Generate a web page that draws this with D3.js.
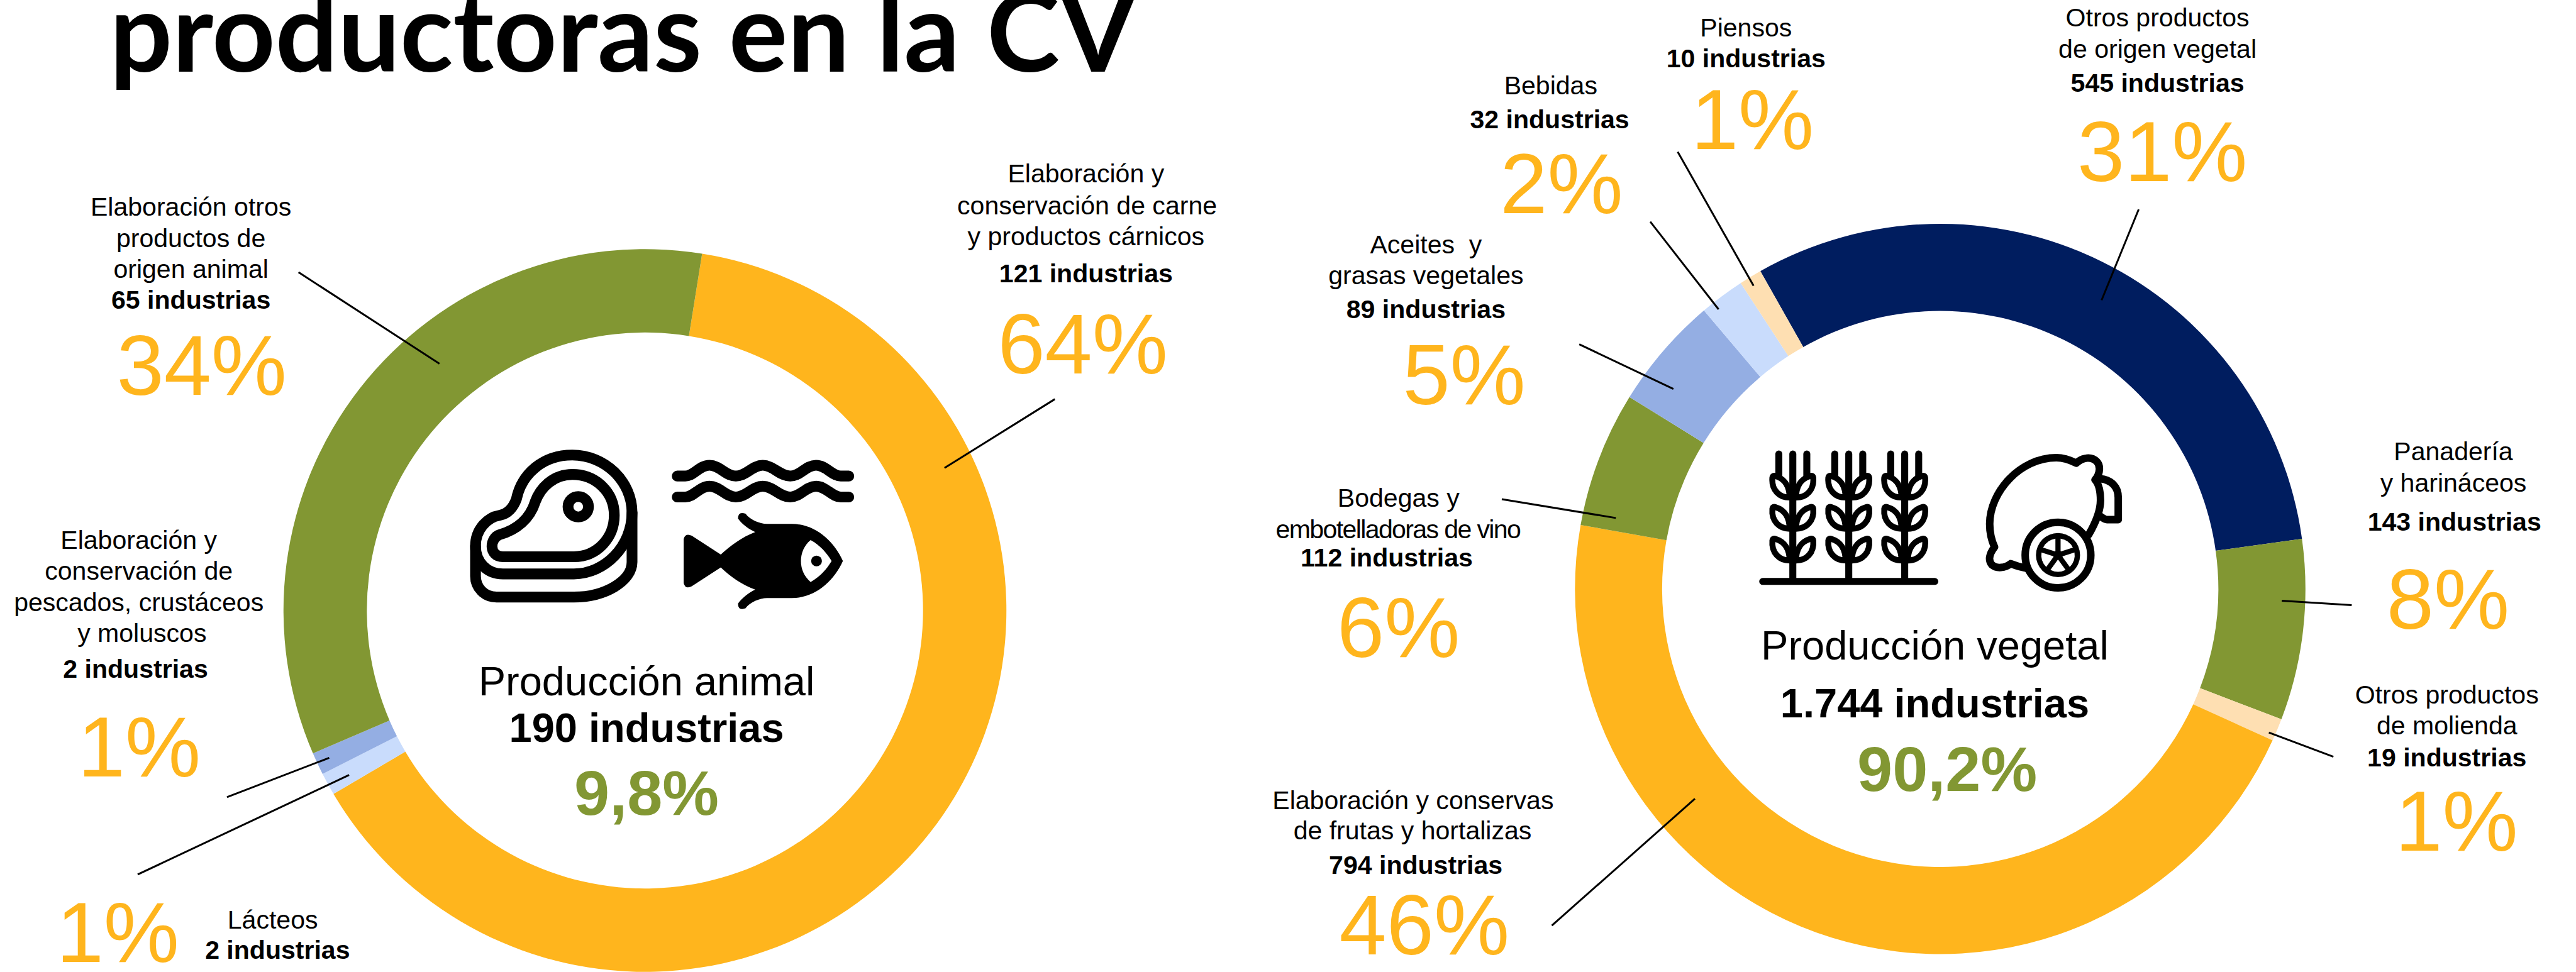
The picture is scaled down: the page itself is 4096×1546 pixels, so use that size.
<!DOCTYPE html>
<html>
<head>
<meta charset="utf-8">
<script src="https://cdn.jsdelivr.net/npm/d3@7"></script>
<style>
  html, body { margin: 0; padding: 0; background: #fff; overflow: hidden; }
  svg { display: block; }
  text { font-family: "Liberation Sans", Arial, sans-serif; white-space: pre; }
</style>
</head>
<body>
<div id="viz"></div>
<script>
const titleText = "productoras en la CV";

const animalNames = [
    ["Elaboración y", "conservación de carne", "y productos cárnicos"],
    ["Lácteos"],
    ["Elaboración y", "conservación de", "pescados, crustáceos", "y moluscos"],
    ["Elaboración otros", "productos de", "origen animal"]
];
const animalCounts = [121, 2, 2, 65];
const animalPcts = [64, 1, 1, 34];
const animalColors = ["#FFB51D", "#C9DCFC", "#94AEE3", "#829733"];

const vegetalNames = [
    ["Otros productos", "de origen vegetal"],
    ["Panadería", "y harináceos"],
    ["Otros productos", "de molienda"],
    ["Elaboración y conservas", "de frutas y hortalizas"],
    ["Bodegas y", "embotelladoras de vino"],
    ["Aceites  y", "grasas vegetales"],
    ["Bebidas"],
    ["Piensos"]
];
const vegetalCounts = [545, 143, 19, 794, 112, 89, 32, 10];
const vegetalPcts = [31, 8, 1, 46, 6, 5, 2, 1];
const vegetalColors = ["#001D5F", "#829733", "#FEDFB2", "#FFB51D", "#829733", "#94AEE3", "#C9DCFC", "#FEDFB2"];

const animalTotal = ["Producción animal", "190 industrias", "9,8%"];
const vegetalTotal = ["Producción vegetal", "1.744 industrias", "90,2%"];

// everything below is laid out in reference pixels, the viewBox scales it to the window
const width = 4789;
const height = 1807;
const deg = Math.PI / 180;

const animalRing = {cx: 1199, cy: 1135, outer: 672, inner: 517, start: 9.1};
const vegetalRing = {cx: 3607, cy: 1095, outer: 679, inner: 517, start: -29.5};

const animalLayout = [
    {names: [[2019, 339], [2021, 398], [2019, 456]], count: [2019, 525], pct: [2013, 694], leader: [1961, 742, 1756, 870]},
    {names: [[507, 1727]], count: [516, 1783], pct: [219, 1789], leader: [256, 1626, 649, 1441]},
    {names: [[258, 1020], [258, 1078], [258, 1136], [264, 1193]], count: [252, 1260], pct: [259, 1444], leader: [422, 1482, 612, 1409]},
    {names: [[355, 401], [355, 459], [355, 516]], count: [355, 574], pct: [375, 734], leader: [555, 506, 817, 676]}
];
const vegetalLayout = [
    {names: [[4011, 49], [4011, 107]], count: [4011, 171], pct: [4020, 337], leader: [3976, 389, 3907, 558]},
    {names: [[4561, 856], [4561, 914]], count: [4563, 987], pct: [4551, 1169], leader: [4242, 1117, 4372, 1125]},
    {names: [[4549, 1308], [4549, 1365]], count: [4549, 1425], pct: [4567, 1582], leader: [4218, 1362, 4338, 1407]},
    {names: [[2627, 1504], [2626, 1561]], count: [2632, 1625], pct: [2648, 1775], leader: [2885, 1721, 3151, 1485]},
    {names: [[2600, 942], [2599, 1000]], count: [2578, 1053], pct: [2600, 1222], leader: [2792, 928, 3004, 963]},
    {names: [[2651, 471], [2651, 528]], count: [2651, 591], pct: [2722, 752], leader: [2936, 640, 3111, 723]},
    {names: [[2883, 175]], count: [2881, 238], pct: [2903, 396], leader: [3068, 412, 3195, 575]},
    {names: [[3246, 68]], count: [3246, 125], pct: [3258, 277], leader: [3119, 282, 3260, 531]}
];

const svg = d3.select("#viz").append("svg")
    .attr("width", 4096)
    .attr("height", 1546)
    .attr("viewBox", `0 0 ${width} ${height}`);

svg.append("text")
    .attr("x", 204)
    .attr("y", 133)
    .attr("font-size", 205)
    .attr("font-weight", 700)
    .style("font-family", "Lato, sans-serif")
    .text(titleText);

// the slices follow the rounded percentages, not the raw counts
function drawRing(ring, values, colors) {
    const pie = d3.pie().sort(null)
        .startAngle(ring.start * deg)
        .endAngle((ring.start + 360) * deg);
    const arc = d3.arc().innerRadius(ring.inner).outerRadius(ring.outer);

    svg.append("g")
        .attr("transform", `translate(${ring.cx}, ${ring.cy})`)
        .selectAll("path")
        .data(pie(values))
        .enter().append("path")
            .attr("d", arc)
            .attr("fill", (d, i) => colors[i]);
}

function drawLabels(names, counts, pcts, layout) {
    const g = svg.append("g").attr("text-anchor", "middle");

    layout.forEach((pos, i) => {
        g.append("line")
            .attr("x1", pos.leader[0]).attr("y1", pos.leader[1])
            .attr("x2", pos.leader[2]).attr("y2", pos.leader[3])
            .attr("stroke", "#000")
            .attr("stroke-width", 3.5);

        names[i].forEach((line, j) => {
            g.append("text")
                .attr("x", pos.names[j][0])
                .attr("y", pos.names[j][1])
                .attr("font-size", 48)
                .attr("letter-spacing", line.startsWith("embotelladoras") ? -1.9 : 0)
                .text(line);
        });

        g.append("text")
            .attr("x", pos.count[0])
            .attr("y", pos.count[1])
            .attr("font-size", 48)
            .attr("font-weight", 700)
            .text(`${counts[i]} industrias`);

        g.append("text")
            .attr("x", pos.pct[0])
            .attr("y", pos.pct[1])
            .attr("font-size", 158)
            .attr("fill", "#FFB51D")
            .text(`${pcts[i]}%`);
    });
}

function drawTotal(lines, xs, ys) {
    const g = svg.append("g").attr("text-anchor", "middle");
    g.append("text").attr("x", xs[0]).attr("y", ys[0]).attr("font-size", 76).text(lines[0]);
    g.append("text").attr("x", xs[1]).attr("y", ys[1]).attr("font-size", 76).attr("font-weight", 700).text(lines[1]);
    g.append("text").attr("x", xs[2]).attr("y", ys[2]).attr("font-size", 118).attr("font-weight", 700).attr("fill", "#829733").text(lines[2]);
}

drawRing(animalRing, animalPcts, animalColors);
drawRing(vegetalRing, vegetalPcts, vegetalColors);
drawLabels(animalNames, animalCounts, animalPcts, animalLayout);
drawLabels(vegetalNames, vegetalCounts, vegetalPcts, vegetalLayout);
drawTotal(animalTotal, [1202, 1202, 1202], [1293, 1379, 1515]);
drawTotal(vegetalTotal, [3597, 3597, 3620], [1226, 1334, 1471]);

// icons
function outline(parent, d, w, fill) {
    return parent.append("path")
        .attr("d", d)
        .attr("fill", fill || "none")
        .attr("stroke", "#000")
        .attr("stroke-width", w)
        .attr("stroke-linecap", "round")
        .attr("stroke-linejoin", "round");
}

// steak
const steak = svg.append("g");
outline(steak, "M884 1015 C884 985 905 962 929 958 C945 955 955 942 960 928 C970 880 1010 846 1064 846 C1125 846 1175 895 1175 953 L1175 1045 C1175 1080 1125 1110 1067 1110 L923 1110 C900 1110 884 1092 884 1071 Z", 20);
outline(steak, "M884 1015 C884 1045 905 1067 935 1067 L1067 1067 C1125 1067 1175 1015 1175 953", 20);
outline(steak, "M935 1035 L1067 1035 C1110 1035 1142 1000 1142 958 C1142 915 1108 882 1064 882 C1030 882 1005 905 995 933 C985 965 960 985 929 994 C910 1000 908 1035 935 1035 Z", 20);
steak.append("circle").attr("cx", 1075).attr("cy", 942).attr("r", 19).attr("fill", "none").attr("stroke", "#000").attr("stroke-width", 20);

// waves and fish
const waves = "M1259 885 L1274 885 C1290 885 1300 865 1319 865 C1338 865 1349 885 1368 885 C1387 885 1399 865 1418 865 C1437 865 1450 885 1469 885 C1488 885 1498 865 1517 865 C1536 865 1547 885 1563 885 L1578 885";
outline(svg, waves, 20);
outline(svg, waves, 20).attr("transform", "translate(0, 39)");
svg.append("path")
    .attr("d", "M1271 1002 Q1274 990 1286 996 L1340 1031 C1358 1014 1380 998 1404 989 C1392 984 1380 975 1372 964 Q1372 950 1386 955 C1394 966 1412 974 1426 974 L1472 974 C1515 974 1550 1005 1567 1043 C1550 1081 1515 1112 1472 1112 L1426 1112 C1412 1112 1394 1120 1386 1131 Q1372 1136 1372 1122 C1380 1111 1392 1102 1404 1096 C1380 1088 1358 1072 1340 1055 L1286 1090 Q1274 1096 1271 1084 Z")
    .attr("fill", "#000");
svg.append("path")
    .attr("d", "M1507 1004 C1525 1014 1537 1028 1546 1043 C1537 1058 1525 1072 1507 1082 C1495 1072 1489 1058 1489 1043 C1489 1028 1495 1014 1507 1004 Z")
    .attr("fill", "#fff");
svg.append("circle").attr("cx", 1518).attr("cy", 1043).attr("r", 10).attr("fill", "#000");

// wheat
const wheat = svg.append("g");
[3333, 3437, 3541].forEach(x => {
    const plant = wheat.append("g").attr("transform", `translate(${x}, 0)`);
    outline(plant, "M0 844 L0 1080", 13);
    outline(plant, "M-26 844 L-26 885", 13);
    outline(plant, "M26 844 L26 885", 13);
    [883, 941, 1000].forEach(y => {
        outline(plant, `M-6 ${y + 42} C-25 ${y + 42} -40 ${y + 28} -38 ${y + 5} Q-37 ${y} -32 ${y + 2} C-15 ${y + 7} -6 ${y + 22} -6 ${y + 42} Z`, 11, "#fff");
        outline(plant, `M6 ${y + 42} C25 ${y + 42} 40 ${y + 28} 38 ${y + 5} Q37 ${y} 32 ${y + 2} C15 ${y + 7} 6 ${y + 22} 6 ${y + 42} Z`, 11, "#fff");
    });
});
outline(wheat, "M3277 1081 L3597 1081", 13);

// lemon
const lemon = svg.append("g");
outline(lemon, "M3905 890 C3925 892 3938 905 3938 925 L3938 966 L3917 966 C3912 966 3908 962 3902 958", 14);
outline(lemon, "M3860 861 C3848 855 3836 851 3823 851 C3755 851 3699 915 3699 974 C3699 990 3702 1004 3708 1017 C3698 1030 3696 1042 3703 1050 C3712 1058 3728 1056 3738 1048 C3750 1053 3758 1055 3770 1057 L3883 994 C3897 970 3905 950 3905 930 C3905 915 3902 900 3895 892 C3905 880 3905 865 3898 858 C3888 848 3872 850 3860 861 Z", 14, "#fff");
lemon.append("circle").attr("cx", 3826).attr("cy", 1032).attr("r", 61).attr("fill", "#fff").attr("stroke", "#000").attr("stroke-width", 14);
lemon.append("circle").attr("cx", 3826).attr("cy", 1032).attr("r", 41).attr("fill", "#000");
const wedge = d3.arc().innerRadius(9).outerRadius(31);
lemon.append("g")
    .attr("transform", "translate(3826, 1032)")
    .selectAll("path")
    .data(d3.pie().padAngle(0.3)([1, 1, 1, 1, 1]))
    .enter().append("path")
        .attr("d", wedge)
        .attr("fill", "#fff");
</script>
</body>
</html>
